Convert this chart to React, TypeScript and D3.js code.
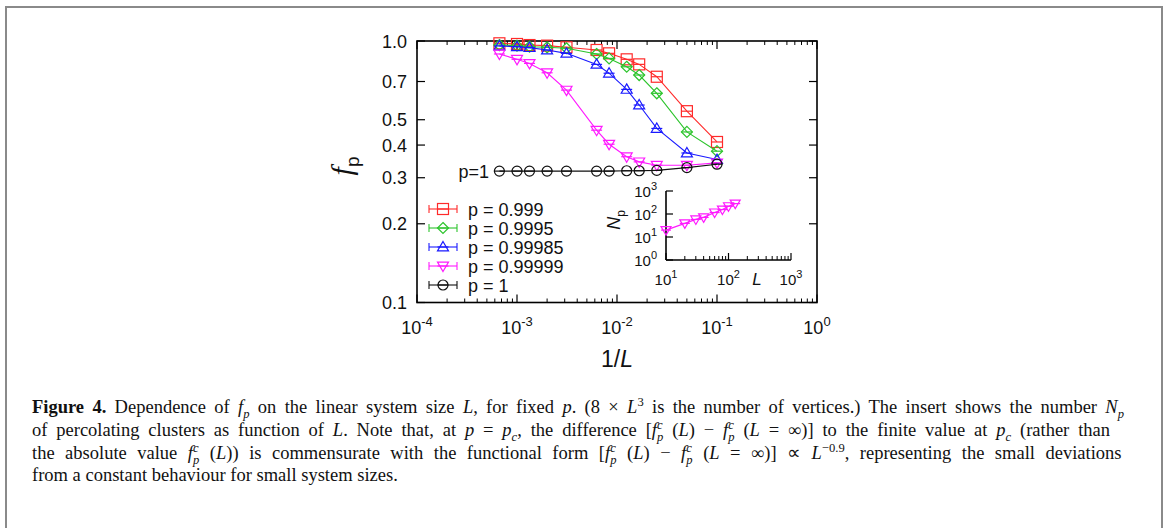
import React, { useLayoutEffect, useRef } from "react";
import * as d3 from "d3";

// ---------- data ----------
const sizesL = [1500, 1000, 750, 500, 320, 160, 120, 80, 60, 40, 20, 10];
const f0999 = [0.98, 0.974, 0.965, 0.96, 0.946, 0.924, 0.897, 0.851, 0.814, 0.73, 0.539, 0.411];
const f09995 = [0.965, 0.96, 0.951, 0.946, 0.938, 0.892, 0.858, 0.797, 0.741, 0.631, 0.449, 0.379];
const f099985 = [0.957, 0.951, 0.943, 0.924, 0.897, 0.814, 0.753, 0.653, 0.569, 0.463, 0.373, 0.352];
const f099999 = [0.892, 0.851, 0.821, 0.756, 0.649, 0.456, 0.403, 0.361, 0.345, 0.335, 0.335, 0.342];
const f1 = [0.318, 0.318, 0.318, 0.318, 0.318, 0.318, 0.318, 0.319, 0.319, 0.32, 0.328, 0.338];

const insetL = [10, 20, 30, 40, 60, 80, 100, 128];
const insetNp = [20, 39, 58, 71, 116, 156, 217, 284];

const seriesNames = ["p = 0.999", "p = 0.9995", "p = 0.99985", "p = 0.99999", "p = 1"];
const seriesColors = ["#ff2a2a", "#2cc42c", "#1a1aff", "#ff1aff", "#111111"];
const seriesShapes = ["square", "diamond", "triUp", "triDown", "circle"];
const seriesValues = [f0999, f09995, f099985, f099999, f1];

const xMajor = [1e-4, 1e-3, 1e-2, 1e-1, 1];
const xMajorExp = ["-4", "-3", "-2", "-1", "0"];
const yMajor = [0.1, 0.2, 0.3, 0.4, 0.5, 0.7, 1.0];
const yMajorLabels = ["0.1", "0.2", "0.3", "0.4", "0.5", "0.7", "1.0"];
const insetXMajor = [10, 100, 1000];
const insetXExp = ["1", "2", "3"];
const insetYMajor = [1, 10, 100, 1000];
const insetYExp = ["0", "1", "2", "3"];

// ---------- scales ----------
const PL = 417, PR = 817, PT = 41, PB = 302.5;
const x = d3.scaleLog().domain([1e-4, 1]).range([PL, PR]);
const y = d3.scaleLog().domain([0.1, 1]).range([PB, PT]);
const IL = 666, IR = 791, IT = 191, IB = 260;
const xi = d3.scaleLog().domain([10, 1000]).range([IL, IR]);
const yi = d3.scaleLog().domain([1, 1000]).range([IB, IT]);

const SANS = "'Liberation Sans', Arial, Helvetica, sans-serif";
const SERIF = "'Liberation Serif', 'Times New Roman', serif";

function Marker({ shape, cx, cy, color, s = 5.5 }: any) {
  const sw = 1.2;
  let el: any = null;
  if (shape === "square") el = <rect x={cx - s} y={cy - s} width={2 * s} height={2 * s} fill="none" stroke={color} strokeWidth={sw} />;
  else if (shape === "diamond") el = <path d={`M${cx},${cy - s}L${cx + s},${cy}L${cx},${cy + s}L${cx - s},${cy}Z`} fill="none" stroke={color} strokeWidth={sw} />;
  else if (shape === "triUp") el = <path d={`M${cx},${cy - s}L${cx + s},${cy + s * 0.7}L${cx - s},${cy + s * 0.7}Z`} fill="none" stroke={color} strokeWidth={sw} />;
  else if (shape === "triDown") el = <path d={`M${cx},${cy + s}L${cx + s},${cy - s * 0.7}L${cx - s},${cy - s * 0.7}Z`} fill="none" stroke={color} strokeWidth={sw} />;
  else el = <circle cx={cx} cy={cy} r={s - 0.5} fill="none" stroke={color} strokeWidth={sw} />;
  return (
    <g>
      {el}
      <line x1={cx - s} x2={cx + s} y1={cy} y2={cy} stroke={color} strokeWidth={sw} />
    </g>
  );
}

type Seg = { t: string; i?: boolean; b?: boolean; sub?: boolean; sup?: boolean; dx?: number };

function Rich({ x: tx, y: ty, segs, size, len }: any) {
  const ref = useRef<SVGTextElement>(null);
  useLayoutEffect(() => {
    const el = ref.current;
    if (!el || !len) return;
    const natural = el.getComputedTextLength();
    const txt = segs.map((s: Seg) => s.t).join("");
    const spaces = (txt.match(/ /g) || []).length;
    if (spaces > 0) {
      const ws = (len - natural) / spaces;
      el.setAttribute("word-spacing", String(ws));
    }
  }, []);
  let cur = 0;
  return (
    <text ref={ref} x={tx} y={ty} fontFamily={SERIF} fontSize={size} fill="#111" style={{ whiteSpace: "pre" }}>
      {segs.map((s: Seg, k: number) => {
        const target = s.sub ? size * 0.28 : s.sup ? -size * 0.38 : 0;
        const dy = target - cur;
        cur = target;
        return (
          <tspan key={k} dy={dy} dx={s.dx || 0} fontStyle={s.i ? "italic" : "normal"} fontWeight={s.b ? "bold" : "normal"}
            fontSize={s.sub || s.sup ? size * 0.68 : size}>
            {s.t}
          </tspan>
        );
      })}
    </text>
  );
}

const fpc: Seg[] = [
  { t: "f", i: true },
  { t: "c", i: true, sup: true },
  { t: "p", i: true, sub: true, dx: -5.5 },
];

const captionLines: Seg[][] = [
  [
    { t: "Figure 4.", b: true }, { t: " Dependence of " }, { t: "f", i: true }, { t: "p", i: true, sub: true },
    { t: " on the linear system size " }, { t: "L", i: true }, { t: ", for fixed " }, { t: "p", i: true },
    { t: ". (8 × " }, { t: "L", i: true }, { t: "3", sup: true }, { t: " is the number of vertices.) The insert shows the number " },
    { t: "N", i: true }, { t: "p", i: true, sub: true },
  ],
  [
    { t: "of percolating clusters as function of " }, { t: "L", i: true }, { t: ". Note that, at " }, { t: "p", i: true },
    { t: " = " }, { t: "p", i: true }, { t: "c", i: true, sub: true }, { t: ", the difference [" }, ...fpc, { t: " (" },
    { t: "L", i: true }, { t: ") − " }, ...fpc, { t: " (" }, { t: "L", i: true }, { t: " = ∞)] to the finite value at " },
    { t: "p", i: true }, { t: "c", i: true, sub: true }, { t: " (rather than" },
  ],
  [
    { t: "the absolute value " }, ...fpc, { t: " (" }, { t: "L", i: true }, { t: ")) is commensurate with the functional form [" },
    ...fpc, { t: " (" }, { t: "L", i: true }, { t: ") − " }, ...fpc, { t: " (" }, { t: "L", i: true }, { t: " = ∞)] ∝ " },
    { t: "L", i: true }, { t: "−0.9", sup: true }, { t: ", representing the small deviations" },
  ],
  [{ t: "from a constant behaviour for small system sizes." }],
];
const captionLens = [1092, 1089, 1106, 0];
const captionY = [413, 436, 459, 481];

export default function App() {
  const minorX: number[] = [];
  for (let e = -4; e < 0; e++) for (let m = 2; m <= 9; m++) minorX.push(m * Math.pow(10, e));
  const minorXi: number[] = [];
  for (let e = 1; e < 3; e++) for (let m = 2; m <= 9; m++) minorXi.push(m * Math.pow(10, e));

  const line = d3.line<number>().x((_, k) => x(1 / sizesL[k])).y((v) => y(v));
  const lineI = d3.line<number>().x((_, k) => xi(insetL[k])).y((v) => yi(v));

  return (
    <svg width={1168} height={528} style={{ position: "absolute", left: 0, top: 0, background: "#fff" }}>
      <rect x={6} y={7} width={1156} height={522} fill="none" stroke="#8a8a8a" strokeWidth={2} />

      {/* main frame */}
      <rect x={PL} y={PT} width={PR - PL} height={PB - PT} fill="none" stroke="#000" strokeWidth={1.6} />
      {xMajor.map((v, k) => (
        <g key={"xm" + k}>
          <line x1={x(v)} x2={x(v)} y1={PB} y2={PB - 8} stroke="#000" strokeWidth={1.2} />
          <line x1={x(v)} x2={x(v)} y1={PT} y2={PT + 8} stroke="#000" strokeWidth={1.2} />
          <text x={x(v)} y={334} textAnchor="middle" fontFamily={SANS} fontSize={18} fill="#111">
            10<tspan dy={-8} fontSize={13}>{xMajorExp[k]}</tspan>
          </text>
        </g>
      ))}
      {minorX.map((v, k) => (
        <g key={"xn" + k}>
          <line x1={x(v)} x2={x(v)} y1={PB} y2={PB - 4} stroke="#000" strokeWidth={1} />
          <line x1={x(v)} x2={x(v)} y1={PT} y2={PT + 4} stroke="#000" strokeWidth={1} />
        </g>
      ))}
      {yMajor.map((v, k) => (
        <g key={"ym" + k}>
          <line x1={PL} x2={PL + 8} y1={y(v)} y2={y(v)} stroke="#000" strokeWidth={1.2} />
          <line x1={PR} x2={PR - 8} y1={y(v)} y2={y(v)} stroke="#000" strokeWidth={1.2} />
          <text x={407} y={y(v) + 6.5} textAnchor="end" fontFamily={SANS} fontSize={18} fill="#111">{yMajorLabels[k]}</text>
        </g>
      ))}

      {/* axis labels */}
      <text transform="translate(352,166) rotate(-90)" textAnchor="middle" fontSize={30} fill="#111">
        <tspan fontFamily={SERIF} fontStyle="italic">f</tspan>
        <tspan fontFamily={SANS} fontSize={19} dy={7}>p</tspan>
      </text>
      <text x={617} y={367} textAnchor="middle" fontFamily={SANS} fontSize={23} fill="#111">
        1/<tspan fontStyle="italic">L</tspan>
      </text>

      {/* series */}
      {seriesValues.map((vals, si) => (
        <g key={"s" + si}>
          <path d={line(vals) || ""} fill="none" stroke={seriesColors[si]} strokeWidth={1.1} />
          {vals.map((v, k) => (
            <Marker key={k} shape={seriesShapes[si]} cx={x(1 / sizesL[k])} cy={y(v)} color={seriesColors[si]} />
          ))}
        </g>
      ))}
      <text x={489} y={y(f1[0]) + 6.5} textAnchor="end" fontFamily={SANS} fontSize={18} fill="#111">p=1</text>

      {/* legend */}
      {seriesNames.map((nm, k) => {
        const ly = 209 + k * 19;
        const c = seriesColors[k];
        return (
          <g key={"lg" + k}>
            <line x1={429} x2={457} y1={ly} y2={ly} stroke={c} strokeWidth={1.1} />
            <line x1={429} x2={429} y1={ly - 4} y2={ly + 4} stroke={c} strokeWidth={1.1} />
            <line x1={457} x2={457} y1={ly - 4} y2={ly + 4} stroke={c} strokeWidth={1.1} />
            <Marker shape={seriesShapes[k]} cx={443} cy={ly} color={c} />
            <text x={468} y={ly + 6.5} fontFamily={SANS} fontSize={18} fill="#111">{nm}</text>
          </g>
        );
      })}

      {/* inset */}
      <line x1={IL} x2={IL} y1={IT} y2={IB} stroke="#000" strokeWidth={1.6} />
      <line x1={IL} x2={IR} y1={IB} y2={IB} stroke="#000" strokeWidth={1.6} />
      {insetXMajor.map((v, k) => (
        <g key={"ixm" + k}>
          <line x1={xi(v)} x2={xi(v)} y1={IB} y2={IB - 7} stroke="#000" strokeWidth={1.2} />
          <text x={xi(v)} y={285} textAnchor="middle" fontFamily={SANS} fontSize={15} fill="#111">
            10<tspan dy={-7} fontSize={11}>{insetXExp[k]}</tspan>
          </text>
        </g>
      ))}
      {minorXi.map((v, k) => (
        <line key={"ixn" + k} x1={xi(v)} x2={xi(v)} y1={IB} y2={IB - 4} stroke="#000" strokeWidth={1} />
      ))}
      {insetYMajor.map((v, k) => (
        <g key={"iym" + k}>
          <line x1={IL} x2={IL + 7} y1={yi(v)} y2={yi(v)} stroke="#000" strokeWidth={1.2} />
          <text x={657} y={yi(v) + 5.5} textAnchor="end" fontFamily={SANS} fontSize={15} fill="#111">
            10<tspan dy={-7} fontSize={11}>{insetYExp[k]}</tspan>
          </text>
        </g>
      ))}
      <text x={757} y={285} textAnchor="middle" fontFamily={SANS} fontStyle="italic" fontSize={17} fill="#111">L</text>
      <text transform="translate(620,220) rotate(-90)" textAnchor="middle" fontFamily={SANS} fontSize={18} fill="#111">
        <tspan fontStyle="italic">N</tspan>
        <tspan fontSize={12} dy={5}>p</tspan>
      </text>
      <path d={lineI(insetNp) || ""} fill="none" stroke={seriesColors[3]} strokeWidth={1.2} />
      {insetNp.map((v, k) => (
        <Marker key={"in" + k} shape="triDown" cx={xi(insetL[k])} cy={yi(v)} color={seriesColors[3]} s={5} />
      ))}

      {/* caption */}
      {captionLines.map((segs, k) => (
        <Rich key={"cap" + k} x={32} y={captionY[k]} segs={segs} size={18.5} len={captionLens[k] || undefined} />
      ))}
    </svg>
  );
}
